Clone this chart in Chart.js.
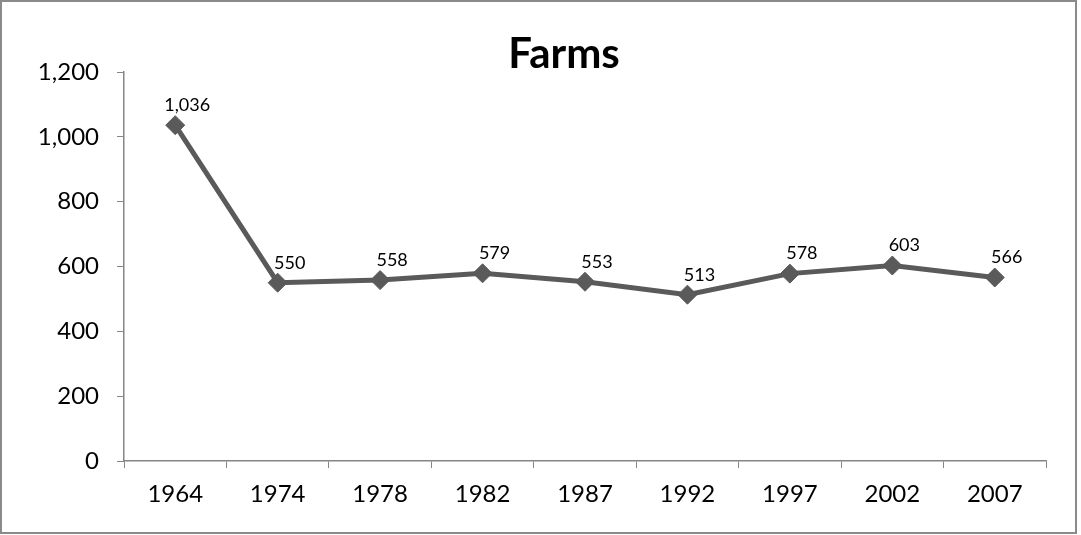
<!DOCTYPE html>
<html>
<head>
<meta charset="utf-8">
<title>Farms</title>
<script src="https://cdn.jsdelivr.net/npm/chart.js@4.4.1/dist/chart.umd.min.js"></script>
<style>
    html, body { margin: 0; padding: 0; background: #fff; }
    #wrap { position: relative; width: 1081px; height: 535px; }
</style>
</head>
<body>
<div id="wrap"><canvas id="farmsChart" width="1081" height="535"></canvas></div>
<script>
// Census years and number of farms
const years = ['1964', '1974', '1978', '1982', '1987', '1992', '1997', '2002', '2007'];
const farms = [1036, 550, 558, 579, 553, 513, 578, 603, 566];

// Value axis
const yMin = 0;
const yMax = 1200;
const yStep = 200;

const chartTitle = 'Farms';
const lineColor = '#5a5a5a';
const axisColor = '#868686';

(function() {
    'use strict';

    const canvas = document.getElementById('farmsChart');

    Chart.defaults.font.family = 'Lato, "Open Sans", sans-serif';
    Chart.defaults.color = '#000';

    // Outer frame and title
    const framePlugin = {
        id: 'frame',
        beforeDraw(chart) {
            const ctx = chart.ctx;
            ctx.save();
            ctx.fillStyle = '#fff';
            ctx.fillRect(0, 0, chart.width, chart.height);
            ctx.strokeStyle = '#8a8a8a';
            ctx.lineWidth = 2;
            ctx.strokeRect(1, 1, 1075, 532);
            ctx.restore();
        },
        afterDraw(chart) {
            const ctx = chart.ctx;
            ctx.save();
            ctx.font = 'bold 42px Lato, "Open Sans", sans-serif';
            ctx.fillStyle = '#000';
            ctx.textAlign = 'center';
            ctx.textBaseline = 'alphabetic';
            ctx.fillText(chartTitle, 564, 68);
            ctx.restore();
        }
    };

    // Value labels above each point
    const valueLabels = {
        id: 'valueLabels',
        afterDatasetsDraw(chart) {
            const ctx = chart.ctx;
            const meta = chart.getDatasetMeta(0);
            ctx.save();
            ctx.font = '18px Lato, "Open Sans", sans-serif';
            ctx.fillStyle = '#000';
            ctx.textAlign = 'center';
            ctx.textBaseline = 'middle';
            meta.data.forEach(function(pt, i) {
                const v = chart.data.datasets[0].data[i];
                ctx.fillText(v.toLocaleString('en-US'), pt.x + 12, pt.y - 20);
            });
            ctx.restore();
        }
    };

    const config = {
        type: 'line',
        data: {
            labels: years,
            datasets: [{
                data: farms,
                borderColor: lineColor,
                backgroundColor: lineColor,
                borderWidth: 5,
                tension: 0,
                pointStyle: 'rectRot',
                pointRadius: 9.5,
                pointHoverRadius: 9.5,
                pointBackgroundColor: lineColor,
                pointBorderColor: lineColor,
                pointBorderWidth: 1,
                fill: false
            }]
        },
        options: {
            responsive: false,
            animation: false,
            events: [],
            layout: {
                padding: { top: 72, right: 35, bottom: 0, left: 0 }
            },
            plugins: {
                legend: { display: false },
                title: { display: false },
                tooltip: { enabled: false }
            },
            scales: {
                x: {
                    offset: true,
                    grid: {
                        offset: true,
                        drawOnChartArea: false,
                        drawTicks: true,
                        tickLength: 7,
                        color: axisColor
                    },
                    border: { color: axisColor, width: 1.5 },
                    ticks: {
                        font: { size: 24 },
                        padding: 12,
                        maxRotation: 0,
                        autoSkip: false
                    },
                    afterFit(scale) { scale.height = 74; }
                },
                y: {
                    min: yMin,
                    max: yMax,
                    grid: {
                        drawOnChartArea: false,
                        drawTicks: true,
                        tickLength: 7,
                        color: axisColor
                    },
                    border: { color: axisColor, width: 1.5 },
                    ticks: {
                        stepSize: yStep,
                        font: { size: 24 },
                        padding: 18,
                        callback: function(value) {
                            return value.toLocaleString('en-US');
                        }
                    },
                    afterFit(scale) { scale.width = 124; }
                }
            }
        },
        plugins: [framePlugin, valueLabels]
    };

    new Chart(canvas, config);
})();
</script>
</body>
</html>
